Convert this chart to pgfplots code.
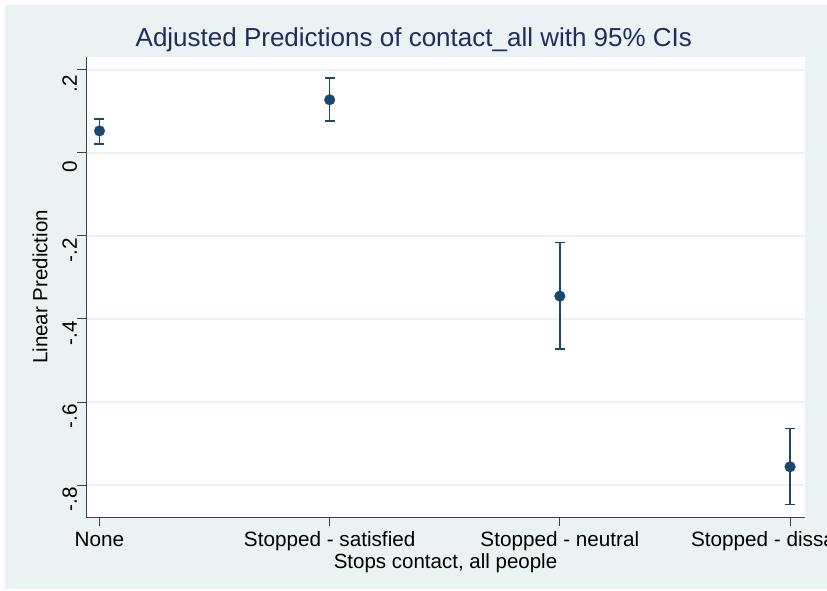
\documentclass[border=0pt]{standalone}
\usepackage{pgfplots}
\pgfplotsset{compat=1.18}
\usepackage{pgfplotstable}
\usepackage{fontspec}
\setmainfont{Liberation Sans}
\definecolor{stbg}{HTML}{EAF2F3}
\definecolor{stnavy}{HTML}{1A476F}
\definecolor{sttitle}{HTML}{1E2D5C}
\definecolor{stgrid}{HTML}{EAF2F3}

% margins: estimate, upper and lower CI half-widths
\pgfplotstableread{
x   y       ep     em
0   0.053   0.029  0.031
1   0.128   0.053  0.051
2  -0.345   0.129  0.127
3  -0.756   0.092  0.091
}\margins

\begin{document}
\begin{tikzpicture}
\useasboundingbox (0pt,0pt) rectangle (827pt,590pt);
\clip (0pt,0pt) rectangle (827pt,590pt);
\fill[white] (0pt,0pt) rectangle (827pt,590pt);
\fill[stbg] (5pt,1pt) rectangle (827pt,585pt);
\begin{axis}[
    at={(86pt,73pt)}, anchor=south west,
    scale only axis,
    width=719pt, height=460pt,
    xmin=-0.0586, xmax=3.065,
    ymin=-0.877, ymax=0.231,
    axis x line=bottom, axis y line=left,
    axis line style={-, black!75, line width=1pt},
    axis background/.style={fill=white},
    tick align=outside,
    major tick length=9pt,
    tick style={black!75, line width=1pt},
    xtick={0,1,2,3},
    xticklabels={None, Stopped - satisfied, Stopped - neutral, Stopped - dissatisfied},
    ytick={-0.8,-0.6,-0.4,-0.2,0,0.2},
    yticklabels={-.8,-.6,-.4,-.2,0,.2},
    ymajorgrids,
    grid style={stgrid, line width=1.5pt},
    ticklabel style={font=\fontsize{20.7}{24}\selectfont, black},
    xticklabel style={anchor=base, yshift=-20pt},
    yticklabel style={rotate=90, anchor=base, xshift=-14pt},
    title={Adjusted Predictions of contact\_all with 95\% CIs},
    title style={at={(0.456,1)}, anchor=center, yshift=11pt,
        font=\fontsize{26}{30}\selectfont, sttitle},
    xlabel={Stops contact, all people},
    xlabel style={at={(0.5,0)}, anchor=center, yshift=-46pt,
        font=\fontsize{20.5}{24}\selectfont, black},
    ylabel={Linear Prediction},
    ylabel style={at={(-0.064,0.5)}, anchor=center, rotate=0,
        font=\fontsize{20.5}{24}\selectfont, black},
    clip=false,
]
\addplot[only marks, mark=*, mark size=5.3pt, color=stnavy,
    error bars/.cd, y dir=both, y explicit,
    error bar style={line width=1.5pt, stnavy},
    error mark options={rotate=90, mark size=5pt, line width=1.5pt, stnavy}]
    table[x=x, y=y, y error plus=ep, y error minus=em] {\margins};
\end{axis}
\end{tikzpicture}
\end{document}
